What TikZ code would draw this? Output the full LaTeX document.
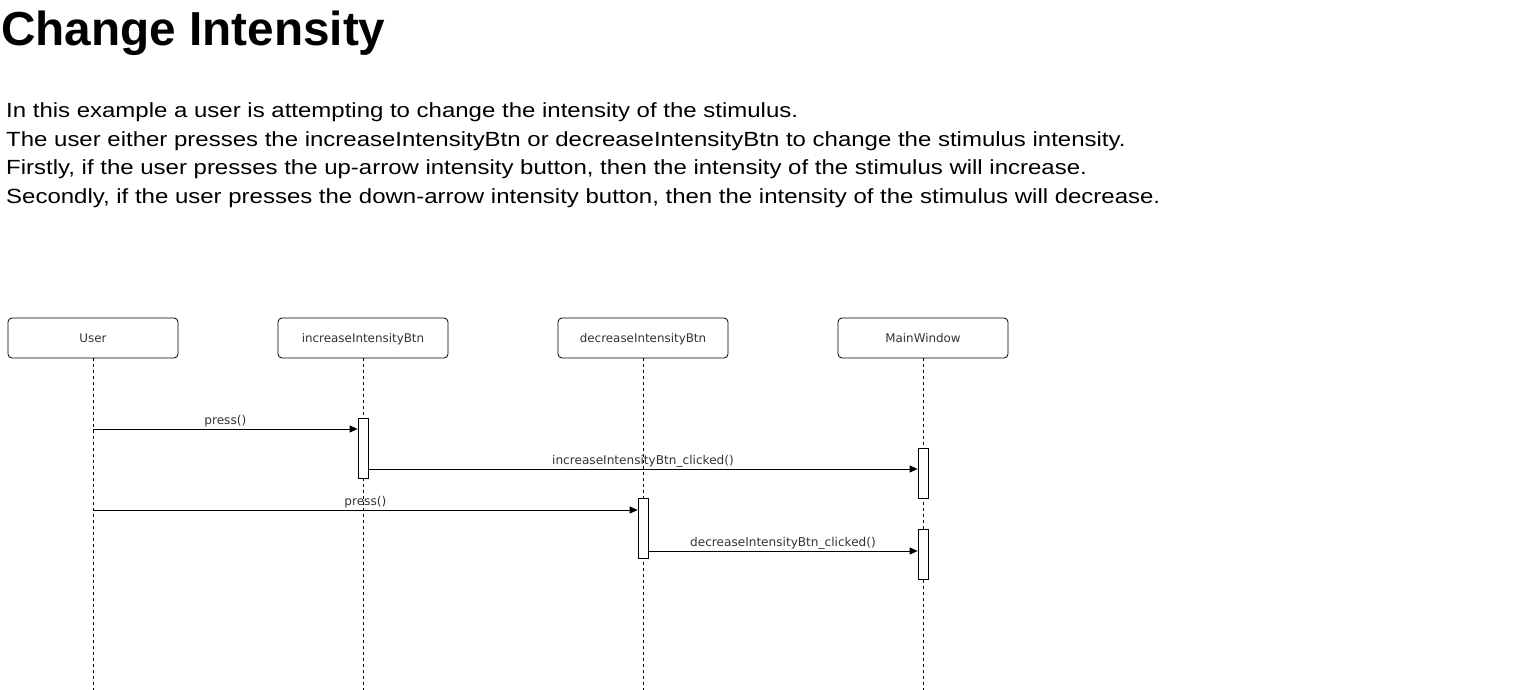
\documentclass[tikz,border=0pt]{standalone}
\usepackage{fontspec}
\setmainfont{Liberation Sans}
\newfontfamily\bodyfont[FakeStretch=1.17]{Liberation Sans}
\newfontfamily\diafont{DejaVu Sans}
\usetikzlibrary{arrows.meta}
\definecolor{labelgray}{HTML}{333333}
\begin{document}
\begin{tikzpicture}[x=1pt,y=-1pt,
  lifebox/.style={draw,line width=0.8pt,rounded corners=4pt,minimum width=170pt,minimum height=40pt,inner sep=0pt,text height=8.6pt,text depth=0pt,text=labelgray,font=\diafont\fontsize{11.9}{14}\selectfont},
  lifeline/.style={line width=0.7pt,dash pattern=on 3pt off 3pt},
  actbar/.style={draw,fill=white,line width=0.8pt},
  msg/.style={line width=0.8pt,-{Triangle[length=8pt,width=7pt]}},
  msglabel/.style={font=\diafont\fontsize{12.1}{14}\selectfont,text=labelgray,inner sep=0pt,anchor=base},
  txt/.style={anchor=base west,inner sep=0pt,font=\bodyfont\fontsize{20.5}{24}\selectfont}
]
\useasboundingbox (0,0) rectangle (1519,690);
\node[anchor=base west,inner sep=0pt,font=\bfseries\fontsize{47.7}{56}\selectfont] (title) at (1,46) {Change Intensity};
\node[txt] (l1) at (6,118) {In this example a user is attempting to change the intensity of the stimulus.};
\node[txt] (l2) at (6,147) {The user either presses the increaseIntensityBtn or decreaseIntensityBtn to change the stimulus intensity.};
\node[txt] (l3) at (6,175) {Firstly, if the user presses the up-arrow intensity button, then the intensity of the stimulus will increase.};
\node[txt] (l4) at (6,204) {Secondly, if the user presses the down-arrow intensity button, then the intensity of the stimulus will decrease.};

\node[lifebox] (user) at (93,338) {User};
\node[lifebox] (inc) at (363,338) {increaseIntensityBtn};
\node[lifebox] (dec) at (643,338) {decreaseIntensityBtn};
\node[lifebox] (mw) at (923,338) {MainWindow};

\coordinate (userEnd) at (93,690);
\coordinate (incEnd) at (363,690);
\coordinate (decEnd) at (643,690);
\coordinate (mwEnd) at (923,690);
\draw[lifeline] (user.south) -- (userEnd);
\draw[lifeline] (inc.south) -- (incEnd);
\draw[lifeline] (dec.south) -- (decEnd);
\draw[lifeline] (mw.south) -- (mwEnd);

\node[actbar,minimum width=10pt,minimum height=60pt,inner sep=0pt] (a1) at (363,448) {};
\node[actbar,minimum width=10pt,minimum height=50pt,inner sep=0pt] (a2) at (923,473) {};
\node[actbar,minimum width=10pt,minimum height=60pt,inner sep=0pt] (a3) at (643,528) {};
\node[actbar,minimum width=10pt,minimum height=50pt,inner sep=0pt] (a4) at (923,554) {};

\coordinate (u1) at (93,429);
\coordinate (u2) at (93,510);
\draw[msg] (u1) -- (a1.west |- u1) node[msglabel,pos=0.5,yshift=4.5pt] {press()};
\draw[msg] (a1.east |- 0,469) -- (a2.west |- 0,469) node[msglabel,pos=0.5,yshift=4.5pt] {increaseIntensityBtn\_clicked()};
\draw[msg] (u2) -- (a3.west |- u2) node[msglabel,pos=0.5,yshift=4.5pt] {press()};
\draw[msg] (a3.east |- 0,551) -- (a4.west |- 0,551) node[msglabel,pos=0.5,yshift=4.5pt] {decreaseIntensityBtn\_clicked()};
\end{tikzpicture}
\end{document}
